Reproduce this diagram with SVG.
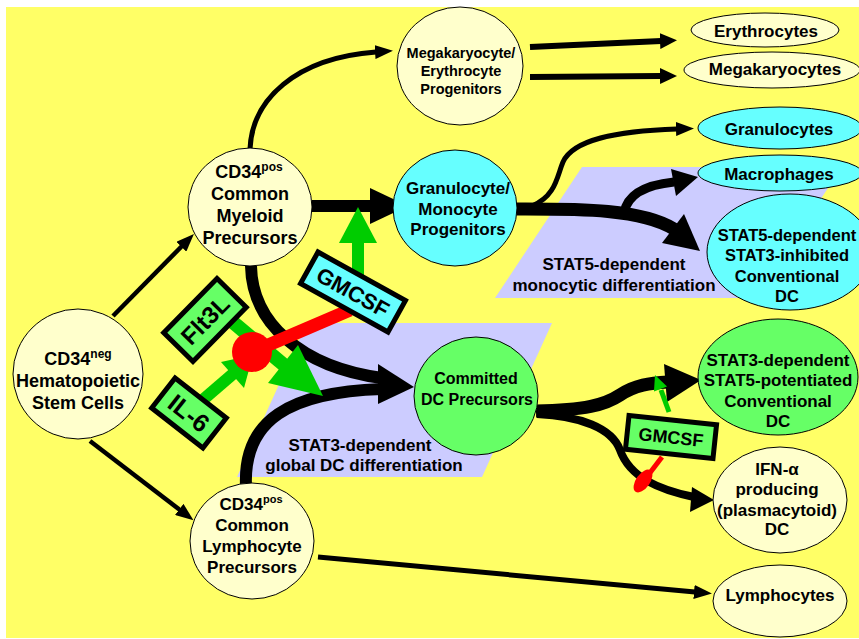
<svg xmlns="http://www.w3.org/2000/svg" width="859" height="639" viewBox="0 0 859 639">
<defs>
<style>
text{font-family:"Liberation Sans",Arial,sans-serif;font-weight:bold;fill:#000;text-anchor:middle}
.n{stroke:#000;stroke-width:1}
.cream{fill:#FFFFCC}
.cyan{fill:#66FFFF}
.green{fill:#66FF66}
.para{fill:#CCCCFF}
.blk{fill:none;stroke:#000}
.box{stroke:#000;stroke-width:5}
.garr{fill:#00CC00}
</style>
<marker id="a1" markerUnits="userSpaceOnUse" markerWidth="18" markerHeight="14" viewBox="0 0 18 14" refX="1" refY="7" orient="auto"><path d="M0,0 L18,7 L0,14 z" fill="#000"/></marker>
<marker id="a2" markerUnits="userSpaceOnUse" markerWidth="17" markerHeight="16" viewBox="0 0 17 16" refX="1" refY="8" orient="auto"><path d="M0,0 L17,8 L0,16 z" fill="#000"/></marker>
</defs>
<rect x="0" y="0" width="859" height="639" fill="#fff"/>
<rect x="6" y="7" width="853" height="631" fill="#FFFF66"/>

<g id="regions">
<polygon class="para" points="582,167 842,167 755,298 495,298"/>
<polygon class="para" points="307,323 552,323 482,477 237,477"/>
<text x="614" y="270" font-size="17">STAT5-dependent</text>
<text x="614" y="291" font-size="17">monocytic differentiation</text>
<text x="360" y="451" font-size="17">STAT3-dependent</text>
<text x="364" y="471" font-size="17">global DC differentiation</text>
</g>

<g id="connectors">
<path class="blk" stroke-width="4.5" d="M113,316 L182,246" marker-end="url(#a1)"/>
<path class="blk" stroke-width="4.5" d="M90,441 L180,510" marker-end="url(#a1)"/>
<path class="blk" stroke-width="5" d="M250,149 C252,100 295,58 376,52" marker-end="url(#a1)"/>
<path class="blk" stroke-width="6" d="M530,47 L661,41" marker-end="url(#a2)"/>
<path class="blk" stroke-width="6" d="M530,77 L661,76" marker-end="url(#a2)"/>
<path class="blk" stroke-width="12" d="M312,206 L372,206"/>
<polygon points="370,188 408,206 370,224" fill="#000"/>
<path class="blk" stroke-width="5" d="M532,206 C556,196 557,176 563,162 C573,140 615,131 677,129" marker-end="url(#a1)"/>
<path class="blk" stroke-width="13" d="M516,209 C575,209 640,208 674,229"/>
<polygon points="684,214 662,243 700,251" fill="#000"/>
<path class="blk" stroke-width="9" d="M624,213 C627,195 645,185 674,182"/>
<polygon points="671,169 676,196 698,177" fill="#000"/>
<path class="blk" stroke-width="12" d="M251,266 C252,322 300,367 382,378"/>
<path class="blk" stroke-width="12" d="M246,486 C243,420 290,392 382,389"/>
<polygon points="378,364 378,404 414,387" fill="#000"/>
<path class="blk" stroke-width="13" d="M536,411 C585,410 605,405 620,395 C635,385 650,383 668,382"/>
<polygon points="664,364 667,402 701,380" fill="#000"/>
<path class="blk" stroke-width="8" d="M537,414 C580,416 612,428 620,450 C630,478 660,490 694,497"/>
<polygon points="692,487 690,512 714,500" fill="#000"/>
<path class="blk" stroke-width="5" d="M318,557 L695,592" marker-end="url(#a1)"/>
</g>

<g id="regulators">
<rect class="garr" x="352" y="240" width="12" height="40"/>
<polygon class="garr" points="339,243 377,243 358,207"/>
<line x1="222" y1="313" x2="284" y2="365" stroke="#00CC00" stroke-width="14"/>
<polygon class="garr" points="268,383 298,345 323,396"/>
<line x1="198" y1="404" x2="234" y2="373" stroke="#00CC00" stroke-width="12"/>
<polygon class="garr" points="221,362 244,388 253,355"/>
<line x1="252" y1="352" x2="350" y2="310" stroke="#FF0000" stroke-width="13"/>
<circle cx="252" cy="352" r="20" fill="#FF0000"/>
<line x1="669" y1="412" x2="661" y2="390" stroke="#00CC00" stroke-width="5"/>
<polygon class="garr" points="667,386.5 654,391.5 655,375"/>
<line x1="662" y1="457" x2="646" y2="478" stroke="#FF0000" stroke-width="5"/>
<ellipse cx="643" cy="481" rx="13" ry="7" transform="rotate(-55 643 481)" fill="#FF0000"/>
</g>

<g id="gmcsf1" transform="translate(353,292) rotate(29)">
<rect class="box cyan" x="-50" y="-18" width="100" height="36"/>
<text x="0" y="8" font-size="22">GMCSF</text>
</g>
<g id="flt3l" transform="translate(205,320) rotate(-45.5)">
<rect class="box green" x="-38" y="-20.5" width="76" height="41"/>
<text x="0" y="8.5" font-size="24">Flt3L</text>
</g>
<g id="il6" transform="translate(189,413) rotate(38)">
<rect class="box green" x="-32.5" y="-19" width="65" height="38"/>
<text x="0" y="9" font-size="25">IL-6</text>
</g>
<g id="gmcsf2" transform="translate(671,437) rotate(6)">
<rect class="box green" x="-44" y="-17" width="88" height="34"/>
<text x="0" y="6.5" font-size="18">GMCSF</text>
</g>

<g id="hsc">
<circle class="n cream" cx="78" cy="374" r="65"/>
<text x="78" y="364.5" font-size="18">CD34<tspan font-size="12" dy="-7">neg</tspan></text>
<text x="78" y="386.5" font-size="18">Hematopoietic</text>
<text x="78" y="408.5" font-size="18">Stem Cells</text>
</g>
<g id="cmp">
<ellipse class="n cream" cx="250" cy="207" rx="62" ry="59"/>
<text x="249" y="177.5" font-size="18">CD34<tspan font-size="12" dy="-7">pos</tspan></text>
<text x="250" y="199.5" font-size="18">Common</text>
<text x="250" y="221.5" font-size="18">Myeloid</text>
<text x="250" y="243.5" font-size="18">Precursors</text>
</g>
<g id="clp">
<ellipse class="n cream" cx="252" cy="541" rx="62" ry="58"/>
<text x="251" y="510" font-size="17">CD34<tspan font-size="11" dy="-7">pos</tspan></text>
<text x="252" y="531" font-size="17">Common</text>
<text x="252" y="552" font-size="17">Lymphocyte</text>
<text x="252" y="573" font-size="17">Precursors</text>
</g>
<g id="mep">
<ellipse class="n cream" cx="460" cy="66" rx="63" ry="59"/>
<text x="461" y="58" font-size="14.5">Megakaryocyte/</text>
<text x="461" y="76" font-size="14.5">Erythrocyte</text>
<text x="461" y="94" font-size="14.5">Progenitors</text>
</g>
<g id="gmp">
<ellipse class="n cyan" cx="455" cy="208" rx="62" ry="58"/>
<text x="458" y="194" font-size="17">Granulocyte/</text>
<text x="458" y="215" font-size="17">Monocyte</text>
<text x="458" y="235" font-size="17">Progenitors</text>
</g>
<g id="cdp">
<ellipse class="n green" cx="476" cy="396" rx="62" ry="59"/>
<text x="476" y="384" font-size="16">Committed</text>
<text x="477" y="405" font-size="16">DC Precursors</text>
</g>
<g id="ery">
<ellipse class="n cream" cx="765" cy="30" rx="74" ry="17"/>
<text x="766" y="37" font-size="17">Erythrocytes</text>
</g>
<g id="mega">
<ellipse class="n cream" cx="772" cy="70" rx="88" ry="18"/>
<text x="775" y="75" font-size="17">Megakaryocytes</text>
</g>
<g id="gran">
<ellipse class="n cyan" cx="780" cy="128" rx="82" ry="21"/>
<text x="779" y="135" font-size="17">Granulocytes</text>
</g>
<g id="mac">
<ellipse class="n cyan" cx="780" cy="173" rx="82" ry="18"/>
<text x="779" y="180" font-size="17">Macrophages</text>
</g>
<g id="stat5dc">
<ellipse class="n cyan" cx="790" cy="252" rx="83" ry="58"/>
<text x="787" y="241" font-size="16.5">STAT5-dependent</text>
<text x="787" y="261" font-size="16.5">STAT3-inhibited</text>
<text x="787" y="282" font-size="16.5">Conventional</text>
<text x="787" y="302" font-size="16.5">DC</text>
</g>
<g id="stat3dc">
<ellipse class="n green" cx="778" cy="377" rx="80" ry="58"/>
<text x="778" y="366" font-size="17">STAT3-dependent</text>
<text x="778" y="386" font-size="17">STAT5-potentiated</text>
<text x="778" y="407" font-size="17">Conventional</text>
<text x="778" y="427" font-size="17">DC</text>
</g>
<g id="pdc">
<ellipse class="n cream" cx="780" cy="500" rx="67" ry="53"/>
<text x="777" y="475" font-size="17">IFN-α</text>
<text x="777" y="495" font-size="17">producing</text>
<text x="777" y="516" font-size="17">(plasmacytoid)</text>
<text x="777" y="535" font-size="17">DC</text>
</g>
<g id="lymph">
<ellipse class="n cream" cx="780" cy="601" rx="67" ry="36"/>
<text x="780" y="601" font-size="17">Lymphocytes</text>
</g>
</svg>
